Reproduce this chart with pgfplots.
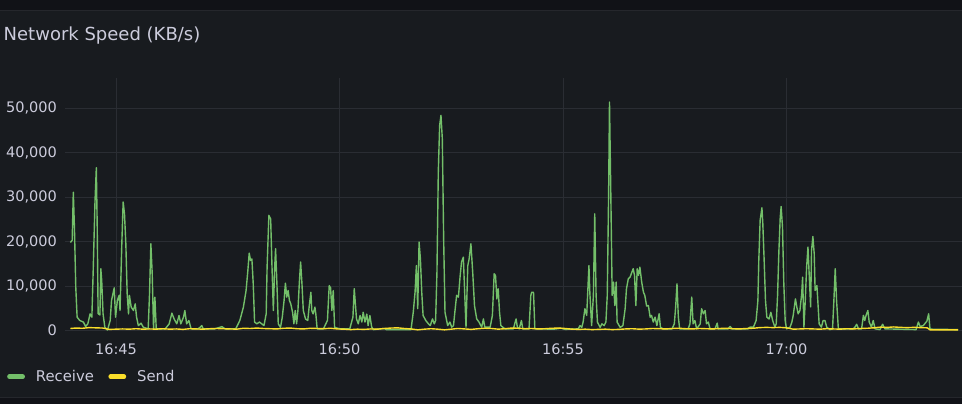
\documentclass[border=0pt]{standalone}
\usepackage{fontspec}
\setmainfont{DejaVu Sans}
\usepackage{pgfplots}
\usepackage{pgfplotstable}
\pgfplotsset{compat=1.18}
\definecolor{outerbg}{HTML}{111217}
\definecolor{panelbg}{HTML}{181B1F}
\definecolor{panelborder}{HTML}{25272C}
\definecolor{gridc}{HTML}{2A2D33}
\definecolor{txt}{HTML}{CCCCDC}
\definecolor{recv}{HTML}{73BF69}
\definecolor{send}{HTML}{FADE2A}

\pgfplotstableread{
x y
43.98 19800
44.02 20300
44.045 31100
44.07 23200
44.10 9750
44.13 3000
44.19 2250
44.27 1900
44.32 900
44.37 1500
44.42 3750
44.46 3000
44.49 13500
44.53 29000
44.56 36600
44.58 23000
44.60 3800
44.64 3500
44.66 13900
44.68 11250
44.71 3800
44.75 750
44.81 100
44.87 2250
44.90 6750
44.96 9600
44.99 3000
45.03 6750
45.07 7900
45.09 4500
45.13 19500
45.16 28900
45.19 26250
45.22 19500
45.25 8250
45.28 3750
45.30 7900
45.34 5250
45.39 4500
45.43 6000
45.46 3000
45.50 1100
45.56 1650
45.61 750
45.72 370
45.75 8250
45.78 19500
45.81 12750
45.84 400
45.87 7500
45.90 400
45.98 370
46.10 370
46.19 1500
46.25 3900
46.30 2600
46.36 1500
46.41 3375
46.45 1500
46.51 3000
46.54 4500
46.58 1500
46.63 2250
46.68 370
46.84 370
46.92 1100
46.95 370
47.21 370
47.37 870
47.44 370
47.68 400
47.77 2250
47.85 5250
47.91 9000
47.95 13500
47.98 17400
48.01 15750
48.04 16100
48.07 10500
48.10 1900
48.15 1500
48.21 1900
48.26 1500
48.31 1100
48.36 3750
48.38 14250
48.42 25900
48.46 25100
48.49 14250
48.52 4500
48.55 14250
48.57 18400
48.60 10500
48.63 1500
48.68 700
48.72 3000
48.76 6750
48.79 10650
48.82 7500
48.85 9000
48.88 6750
48.91 6000
48.95 4100
48.98 1500
49.01 4500
49.04 1500
49.07 4500
49.10 10500
49.13 15400
49.16 10500
49.19 4500
49.24 2600
49.29 2250
49.32 5250
49.36 8600
49.38 4500
49.41 3750
49.45 5250
49.47 3750
49.50 370
49.64 370
49.73 2250
49.77 10100
49.80 9600
49.83 4500
49.86 9000
49.89 700
50.01 370
50.23 370
50.30 3000
50.33 9400
50.38 2600
50.42 1500
50.46 3375
50.50 1900
50.53 4100
50.57 1900
50.61 3700
50.64 1100
50.68 3375
50.72 750
50.76 200
51.00 450
51.05 200
51.24 200
51.60 200
51.65 4100
51.69 8600
51.72 14600
51.75 4900
51.78 19900
51.81 16100
51.84 8600
51.87 3375
51.93 2250
51.99 1500
52.03 1100
52.08 2600
52.12 1500
52.15 2250
52.18 13100
52.21 35600
52.24 46100
52.27 48400
52.30 43100
52.33 20600
52.36 4100
52.39 2600
52.42 1100
52.47 1900
52.51 750
52.55 1100
52.58 4100
52.62 7900
52.66 7500
52.70 12400
52.73 15400
52.77 16500
52.79 11250
52.83 750
52.87 14600
52.90 16100
52.94 19500
52.98 13100
53.02 5600
53.07 2600
53.12 1900
53.18 750
53.22 2600
53.25 750
53.37 750
53.42 3375
53.46 12750
53.49 12400
53.52 7100
53.55 9400
53.58 4100
53.61 1100
53.70 370
53.89 370
53.95 2600
53.98 700
54.02 370
54.07 2250
54.10 370
54.24 370
54.28 7900
54.30 8600
54.34 8600
54.37 370
54.80 300
54.95 500
55.05 250
55.34 370
55.38 1100
55.42 700
55.45 1900
55.49 4900
55.53 3400
55.58 14600
55.60 8600
55.64 1100
55.68 7900
55.71 26250
55.74 7900
55.77 1900
55.83 700
55.87 1500
55.92 1100
55.96 1900
55.99 7900
56.02 30400
56.04 51400
56.07 30400
56.10 7900
56.13 10900
56.16 5600
56.19 10900
56.21 1900
56.28 700
56.34 1100
56.39 4900
56.42 9400
56.46 11600
56.50 12000
56.54 13100
56.57 13900
56.60 12400
56.63 5600
56.66 13900
56.69 12400
56.72 14250
56.76 10900
56.80 8600
56.83 7900
56.87 5500
56.91 5600
56.95 3000
56.98 3400
57.02 1900
57.06 3000
57.10 1100
57.15 3750
57.18 700
57.24 370
57.44 370
57.49 1500
57.52 5250
57.55 10500
57.58 3000
57.61 370
57.80 370
57.84 1500
57.88 7500
57.91 1500
57.95 2250
57.99 370
58.07 1500
58.10 4900
58.14 3750
58.18 4500
58.21 1500
58.25 1900
58.29 370
58.40 370
58.45 1650
58.47 370
58.69 370
58.74 900
58.78 370
59.14 370
59.18 750
59.26 750
59.32 2250
59.36 6750
59.38 15750
59.41 24750
59.45 27600
59.47 24000
59.50 15750
59.53 6750
59.56 3000
59.61 2600
59.65 4100
59.69 2250
59.74 750
59.77 1500
59.80 7900
59.83 18000
59.86 25500
59.88 27900
59.91 23250
59.94 10500
59.97 2250
60.00 370
60.08 750
60.12 1900
60.15 3400
60.20 7100
60.23 5300
60.26 3750
60.30 4500
60.34 8250
60.36 12000
60.39 750
60.42 6750
60.45 14250
60.48 18750
60.51 12000
60.54 5300
60.56 18000
60.59 21150
60.62 17250
60.64 9000
60.68 10100
60.70 6750
60.73 1500
60.78 750
60.82 2250
60.86 2250
60.90 750
60.97 200
61.03 370
61.06 6750
61.09 13900
61.12 6750
61.16 370
61.49 370
61.53 750
61.57 1400
61.61 370
61.68 370
61.72 3400
61.75 2250
61.78 3400
61.82 4500
61.85 1900
61.90 750
61.94 2250
61.98 370
62.09 200
62.15 1400
62.20 370
62.90 200
62.95 1900
62.99 900
63.06 1100
63.14 2100
63.18 3750
63.21 300
63.84 200
}\recvtable

\pgfplotstableread{
x y
43.98 450
44.10 550
44.25 500
44.40 650
44.55 600
44.70 550
44.85 250
45.00 300
45.15 350
45.30 300
45.45 400
45.60 300
45.75 350
45.90 300
46.05 400
46.20 300
46.35 350
46.50 250
46.65 400
46.80 350
46.95 300
47.10 400
47.25 450
47.40 400
47.55 350
47.70 300
47.85 500
48.00 450
48.15 550
48.30 450
48.45 400
48.60 350
48.75 500
48.90 550
49.05 400
49.20 350
49.35 500
49.50 450
49.65 400
49.80 500
49.95 350
50.10 300
50.25 200
50.40 300
50.55 250
50.70 350
50.85 300
51.00 450
51.15 550
51.30 600
51.45 450
51.60 350
51.75 150
51.90 300
52.05 400
52.20 300
52.35 150
52.50 300
52.65 450
52.80 350
52.95 250
53.10 400
53.25 500
53.40 450
53.55 300
53.70 400
53.85 550
54.00 500
54.15 400
54.30 450
54.45 350
54.60 400
54.75 500
54.90 550
55.05 450
55.20 300
55.35 250
55.50 300
55.65 200
55.80 250
55.95 300
56.10 200
56.25 250
56.40 350
56.55 400
56.70 300
56.85 350
57.00 450
57.15 400
57.30 350
57.45 450
57.60 500
57.75 400
57.90 350
58.05 450
58.20 400
58.35 350
58.50 450
58.65 500
58.80 400
58.95 350
59.10 450
59.25 500
59.40 650
59.55 700
59.70 650
59.85 700
60.00 600
60.15 300
60.30 350
60.45 400
60.60 350
60.75 300
60.90 400
61.05 350
61.20 300
61.35 400
61.50 350
61.65 450
61.80 500
61.95 600
62.10 750
62.25 700
62.40 800
62.55 700
62.70 650
62.85 700
63.00 650
63.15 600
63.21 150
63.84 150
}\sendtable

\begin{document}
\begin{tikzpicture}[x=1pt,y=1pt]
\useasboundingbox (0,0) rectangle (962,404);
\fill[outerbg] (0,0) rectangle (962,404);
\fill[panelbg] (-2,6.5) rectangle (964,393.5);
\draw[panelborder, line width=1pt] (-2,6.5) rectangle (964,393.5);
\node[anchor=base west, inner sep=0pt, text=txt, font=\fontsize{18}{21}\selectfont] at (3.5,363.3) {Network Speed (KB/s)};
\begin{axis}[
  at={(65pt,73.5pt)}, anchor=south west,
  scale only axis, width=897pt, height=252.5pt,
  xmin=43.859, xmax=63.926, ymin=0, ymax=56800,
  axis line style={draw=none},
  major tick length=0pt,
  xtick={45,50,55,60},
  xticklabels={16:45,16:50,16:55,17:00},
  ytick={0,10000,20000,30000,40000,50000},
  scaled y ticks=false,
  grid=major,
  major grid style={gridc, line width=1pt},
  /pgf/number format/assume math mode=true,
  /pgf/number format/1000 sep={,},
  tick label style={font=\fontsize{14.5}{17}\selectfont, text=txt},
  yticklabel style={anchor=east, inner sep=0pt, xshift=-8pt},
  xticklabel style={anchor=north, inner sep=0pt, yshift=-13.5pt},
  legend columns=-1,
  legend image code/.code={\draw[#1, line width=4.5pt, line cap=round] (0pt,0pt) -- (13.3pt,0pt);},
  legend style={at={(-0.0647,-0.183)}, anchor=west, draw=none, fill=none,
    text=txt, font=\fontsize{14.8}{17}\selectfont, inner sep=0pt,
    nodes={inner sep=0pt},
    /tikz/every odd column/.append style={column sep=11pt},
    /tikz/every even column/.append style={column sep=14.5pt}},
]
\addplot[recv, line width=1.4pt, no markers, line join=round] table[x=x, y=y] {\recvtable};
\addlegendentry{Receive}
\addplot[send, line width=1.4pt, no markers, line join=round] table[x=x, y=y] {\sendtable};
\addlegendentry{Send}
\end{axis}
\end{tikzpicture}
\end{document}
